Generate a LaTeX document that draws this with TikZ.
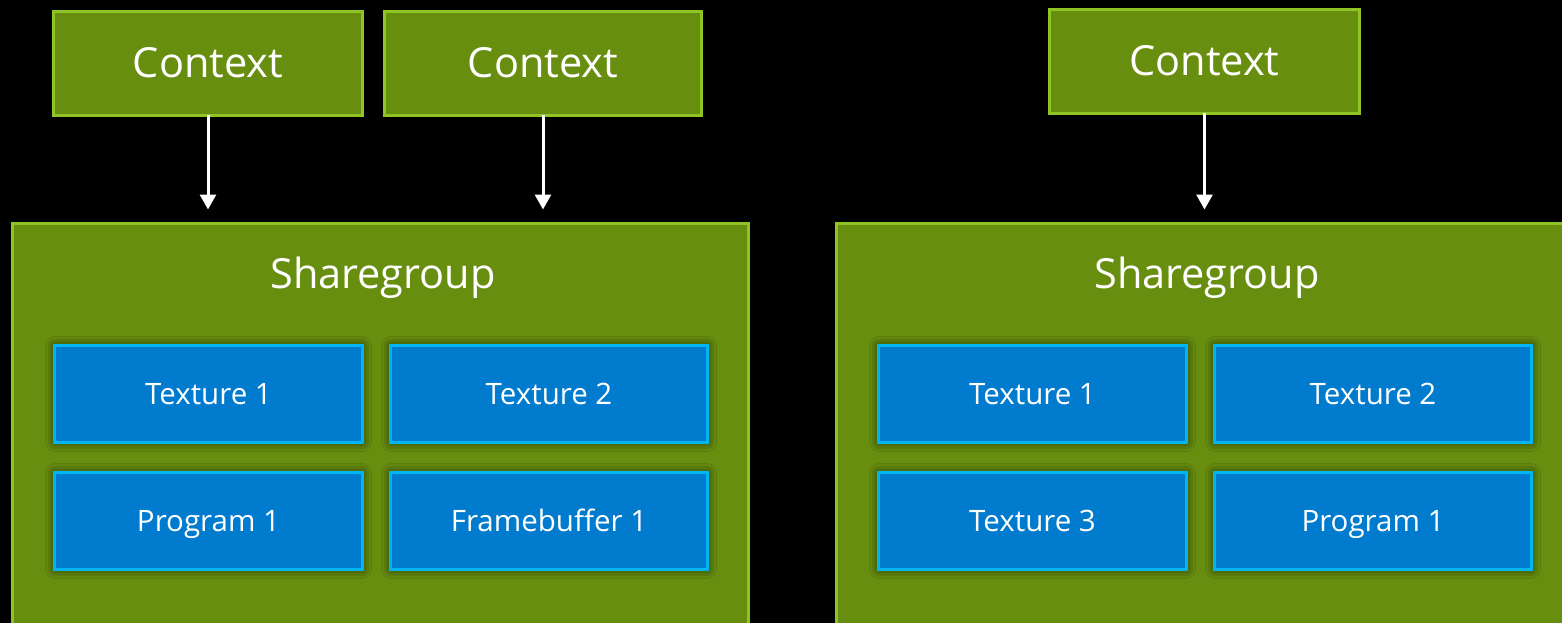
\documentclass[tikz,border=0pt]{standalone}
\usepackage{fontspec}
\setmainfont{Open Sans}
\usetikzlibrary{arrows.meta,shadows.blur}
\definecolor{grfill}{HTML}{688E0F}
\definecolor{grline}{HTML}{8EC424}
\definecolor{blfill}{HTML}{007BCD}
\definecolor{blline}{HTML}{00B6F2}
\tikzset{
  ctxbox/.style={draw=grline, fill=grfill, line width=3pt, minimum width=#1, minimum height=104pt, inner sep=0pt, outer sep=0pt, text=white, font=\fontsize{41.5}{45}\selectfont, text height=29pt, text depth=0pt},
  sgbox/.style={draw=grline, fill=grfill, line width=3pt, inner sep=0pt, outer sep=0pt},
  sglabel/.style={text=white, font=\fontsize{41.5}{45}\selectfont, inner sep=0pt, anchor=base},
  objbox/.style={draw=blline, fill=blfill, line width=3.5pt, minimum width=#1, minimum height=97pt, inner sep=0pt, outer sep=0pt, text=white, font=\fontsize{29.5}{33}\selectfont, text height=20pt, text depth=0pt, blur shadow={shadow xshift=0pt, shadow yshift=0pt, shadow blur radius=9pt, shadow opacity=75}},
  conn/.style={draw=white, line width=3pt, -{Triangle[width=16pt,length=15pt]}, shorten >=14pt}
}
\begin{document}
\begin{tikzpicture}[x=1pt,y=-1pt]
\fill[black] (0,0) rectangle (1562,623);
\useasboundingbox (0,0) rectangle (1562,623);
\clip (0,0) rectangle (1562,623);
% contexts
\node[ctxbox=309pt] (c1) at (208,63.5) {Context};
\node[ctxbox=317pt] (c2) at (543,63.5) {Context};
\node[ctxbox=310pt] (c3) at (1204.5,61.5) {Context};
% sharegroups
\node[sgbox, minimum width=736pt, minimum height=420pt, anchor=north west] (sg1) at (12.5,223.5) {};
\node[sgbox, minimum width=760pt, minimum height=420pt, anchor=north west] (sg2) at (836.5,223.5) {};
\node[sglabel] (l1) at (383,288) {Sharegroup};
\node[sglabel] (l2) at (1207,288) {Sharegroup};
% objects left
\node[objbox=308pt] (t1) at (208.5,394) {Texture 1};
\node[objbox=317pt] (t2) at (549,394) {Texture 2};
\node[objbox=308pt] (p1) at (208.5,521) {Program 1};
\node[objbox=317pt] (f1) at (549,521) {Framebuffer 1};
% objects right
\node[objbox=308pt] (rt1) at (1032.5,394) {Texture 1};
\node[objbox=317pt] (rt2) at (1373,394) {Texture 2};
\node[objbox=308pt] (rt3) at (1032.5,521) {Texture 3};
\node[objbox=317pt] (rp1) at (1373,521) {Program 1};
% connectors
\draw[conn] (c1.south) -- (c1.south |- sg1.north);
\draw[conn] (c2.south) -- (c2.south |- sg1.north);
\draw[conn] (c3.south) -- (c3.south |- sg2.north);
\end{tikzpicture}
\end{document}
